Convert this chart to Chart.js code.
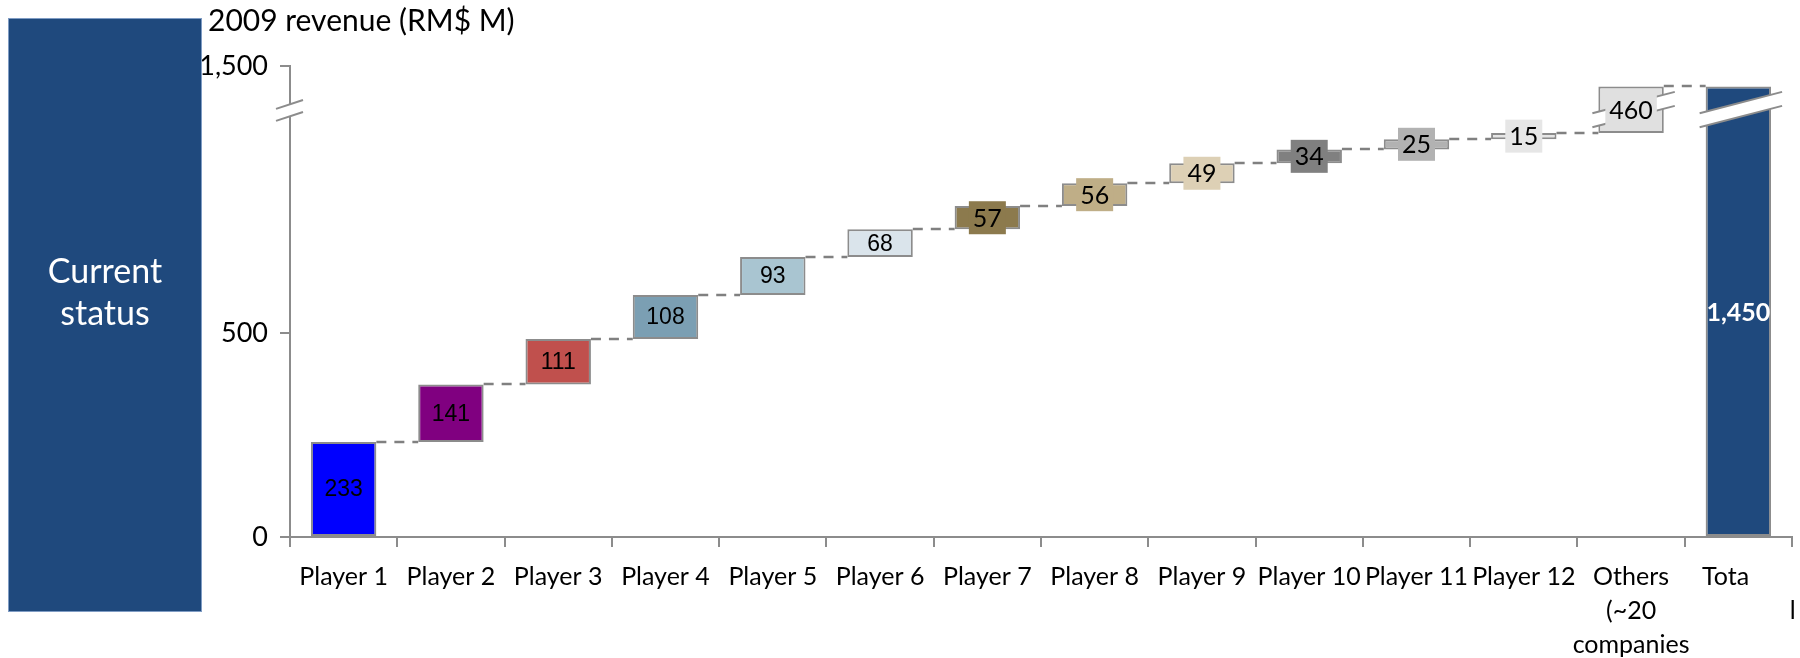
<!DOCTYPE html>
<html>
<head>
<meta charset="utf-8">
<script src="https://cdn.jsdelivr.net/npm/chart.js@4.4.1/dist/chart.umd.min.js"></script>
<style>
  html, body { margin: 0; padding: 0; background: #ffffff; }
  #wrap { width: 1800px; height: 658px; position: relative; }
</style>
</head>
<body>
<div id="wrap"><canvas id="c" width="1800" height="658"></canvas></div>
<script>
// ---- data ----
const categories = ['Player 1', 'Player 2', 'Player 3', 'Player 4', 'Player 5', 'Player 6',
  'Player 7', 'Player 8', 'Player 9', 'Player 10', 'Player 11', 'Player 12',
  'Others (~20 companies', 'Total'];
const NBSP = '\u00a0';
const tickLabels = ['Player 1', 'Player 2', 'Player 3', 'Player 4', 'Player 5', 'Player 6',
  'Player 7', 'Player 8', 'Player 9', 'Player 10', 'Player 11', 'Player 12',
  ['Others', '(~20', 'companies'], ['Tota' + NBSP.repeat(4), NBSP.repeat(17) + 'l']];
const playerValues = [233, 141, 111, 108, 93, 68, 57, 56, 49, 34, 25, 15];
const othersValue = 460;
const totalValue = 1450;
const yTickValues = [0, 500, 1500];

// ---- styles ----
const barColors = ['#0000FF', '#800080', '#C0504D', '#7B9FB3', '#A9C5D1', '#DAE4EB',
  '#8C7A4D', '#BFAE87', '#DDD0B5', '#808080', '#B2B2B2', '#E6E6E6', '#E0E0E0', '#1F497D'];
const GREY = '#8c8c8c';

// ---- broken value axis: the range between the break and the top segment is cut out ----
const AXIS_BREAK = 1046;
const BREAK_GAP = 345.6;
const toAxis = v => (v <= AXIS_BREAK ? v : Math.max(AXIS_BREAK, v - BREAK_GAP));
const fromAxis = a => (a <= AXIS_BREAK + 1e-9 ? a : a + BREAK_GAP);

// waterfall steps
const steps = playerValues.concat([othersValue]);
const starts = [], ends = [];
let running = 0;
steps.forEach(v => { starts.push(running); running += v; ends.push(running); });
const ranges = steps.map((v, i) => [toAxis(starts[i]), toAxis(ends[i])]);
ranges.push([0, toAxis(totalValue)]);
const labelValues = steps.concat([totalValue]);

const waterfallDecor = {
  id: 'waterfallDecor',
  afterDatasetsDraw(chart) {
    const ctx = chart.ctx;
    const meta = chart.getDatasetMeta(0);
    const ys = chart.scales.y;
    const area = chart.chartArea;
    ctx.save();

    // dashed connectors between neighbouring bars
    ctx.setLineDash([10, 8]);
    ctx.strokeStyle = '#808080';
    ctx.lineWidth = 2.5;
    for (let i = 0; i < meta.data.length - 1; i++) {
      const a = meta.data[i], b = meta.data[i + 1];
      const py = Math.round(ys.getPixelForValue(toAxis(ends[i])));
      ctx.beginPath();
      ctx.moveTo(a.x + a.width / 2, py);
      ctx.lineTo(b.x - b.width / 2, py);
      ctx.stroke();
    }
    ctx.setLineDash([]);

    // axis-break marks
    const yc = ys.getPixelForValue(AXIS_BREAK);
    function drawBreak(xc, x0, x1, slope, gap) {
      const up = x => yc - gap / 2 - slope * (x - xc);
      ctx.fillStyle = '#ffffff';
      ctx.beginPath();
      ctx.moveTo(x0, up(x0)); ctx.lineTo(x1, up(x1));
      ctx.lineTo(x1, up(x1) + gap); ctx.lineTo(x0, up(x0) + gap);
      ctx.closePath(); ctx.fill();
      ctx.strokeStyle = GREY; ctx.lineWidth = 2;
      ctx.beginPath(); ctx.moveTo(x0, up(x0)); ctx.lineTo(x1, up(x1)); ctx.stroke();
      ctx.beginPath(); ctx.moveTo(x0, up(x0) + gap); ctx.lineTo(x1, up(x1) + gap); ctx.stroke();
    }
    drawBreak(area.left, area.left - 14, area.left + 13, 0.33, 12);
    [meta.data.length - 2, meta.data.length - 1].forEach(i => {
      const el = meta.data[i];
      drawBreak(el.x, el.x - el.width / 2 - 6, el.x + el.width / 2 + 11, 0.26, 14);
    });

    // value labels
    ctx.textAlign = 'center';
    ctx.textBaseline = 'middle';
    meta.data.forEach((el, i) => {
      const cx = el.x;
      const cy = (el.y + el.base) / 2;
      const text = labelValues[i].toLocaleString('en-US');
      if (i === meta.data.length - 1) {
        ctx.font = 'bold 25px Lato';
        ctx.fillStyle = '#ffffff';
        ctx.fillText(text, cx, cy + 2);
      } else if (i < 6) {
        ctx.font = '23px "Liberation Sans"';
        ctx.fillStyle = '#000000';
        ctx.fillText(text, cx, cy + 1);
      } else {
        ctx.font = '25px Lato';
        const w = ctx.measureText(text).width + 8;
        const h = 33;
        ctx.fillStyle = barColors[i];
        ctx.fillRect(cx - w / 2, cy - h / 2, w, h);
        ctx.fillStyle = '#000000';
        ctx.fillText(text, cx, cy + 1);
      }
    });
    ctx.restore();
  },
  afterDraw(chart) {
    const ctx = chart.ctx;
    ctx.save();
    // axis caption
    ctx.font = '30px Lato';
    ctx.fillStyle = '#000000';
    ctx.textAlign = 'left';
    ctx.textBaseline = 'alphabetic';
    ctx.fillText('2009 revenue (RM$ M)', 208, 31);
    // side panel
    ctx.fillStyle = '#1F497D';
    ctx.fillRect(8, 18, 194, 594);
    ctx.strokeStyle = '#7f9cc4';
    ctx.lineWidth = 1;
    ctx.strokeRect(8.5, 18.5, 193, 593);
    ctx.font = '34px Lato';
    ctx.fillStyle = '#ffffff';
    ctx.textAlign = 'center';
    ctx.fillText('Current', 105, 283);
    ctx.fillText('status', 105, 325);
    ctx.restore();
  }
};

function build() {
  new Chart(document.getElementById('c'), {
    type: 'bar',
    data: {
      labels: tickLabels,
      datasets: [{
        label: '2009 revenue (RM$ M)',
        data: ranges,
        backgroundColor: barColors,
        borderColor: GREY,
        borderWidth: 2,
        borderSkipped: false,
        barPercentage: 0.61,
        categoryPercentage: 1
      }]
    },
    options: {
      responsive: false,
      animation: false,
      devicePixelRatio: 1,
      layout: { padding: { left: 0, right: 8, top: 66, bottom: 0 } },
      plugins: { legend: { display: false }, tooltip: { enabled: false }, title: { display: false } },
      scales: {
        x: {
          grid: { display: true, drawOnChartArea: false, drawTicks: true, tickLength: 10,
                  color: GREY, lineWidth: 2, offset: true },
          border: { display: true, color: GREY, width: 2 },
          ticks: { autoSkip: false, maxRotation: 0, minRotation: 0, color: '#000000',
                   font: { family: 'Lato', size: 25, lineHeight: 1.36 }, padding: 13 },
          afterFit(s) { s.height = 121; s.paddingLeft = 0; s.paddingRight = 0; }
        },
        y: {
          min: 0,
          max: toAxis(1500),
          afterBuildTicks(s) { s.ticks = yTickValues.map(v => ({ value: toAxis(v) })); },
          ticks: {
            callback: v => Math.round(fromAxis(v)).toLocaleString('en-US'),
            color: '#000000',
            font: { family: 'Lato', size: 27 },
            padding: 12
          },
          grid: { drawOnChartArea: false, drawTicks: true, tickLength: 10, color: GREY, lineWidth: 2 },
          border: { display: true, color: GREY, width: 2 },
          afterFit(s) { s.width = 290; s.paddingTop = 0; s.paddingBottom = 0; }
        }
      }
    },
    plugins: [waterfallDecor]
  });
}

if (document.fonts && document.fonts.load) {
  Promise.all([
    document.fonts.load('25px Lato'), document.fonts.load('bold 25px Lato'),
    document.fonts.load('23px "Liberation Sans"')
  ]).then(build, build);
} else {
  build();
}
</script>
</body>
</html>
